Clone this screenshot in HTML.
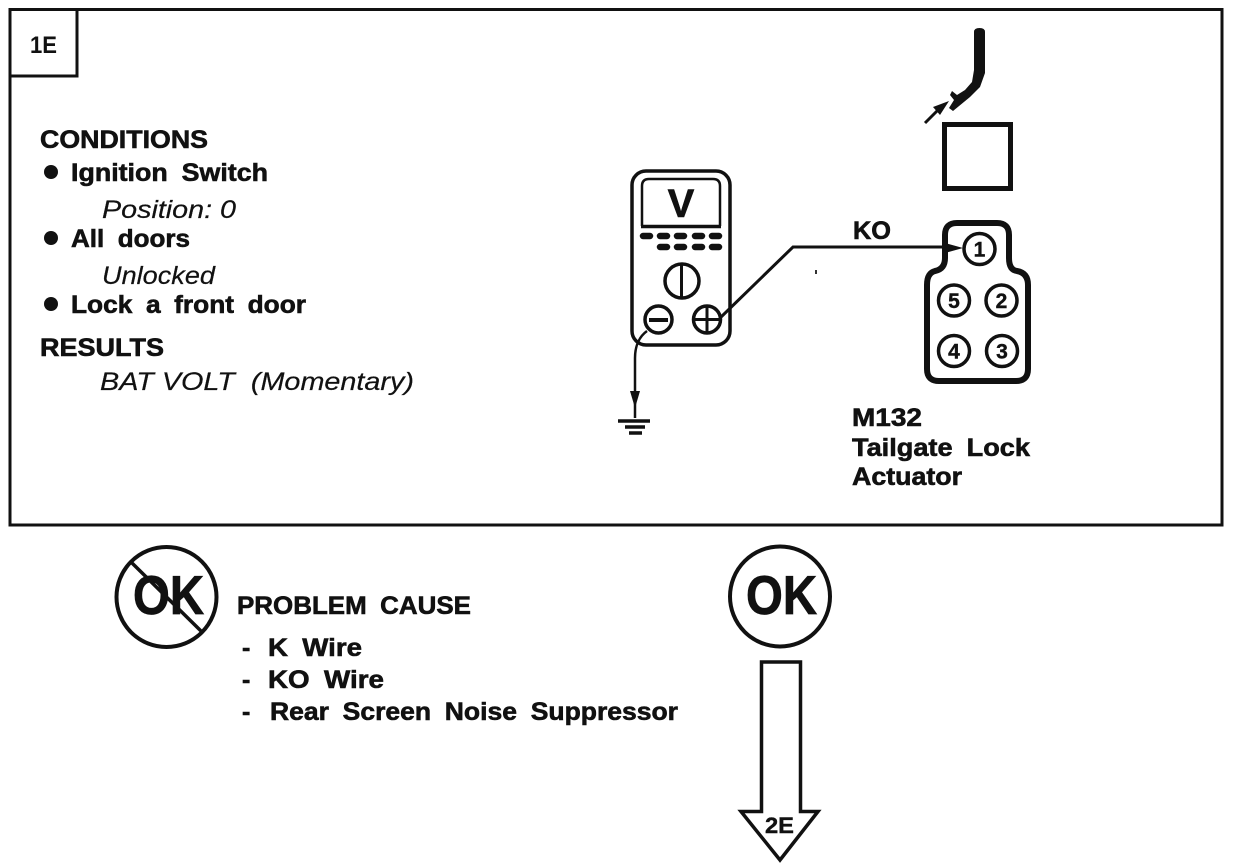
<!DOCTYPE html>
<html>
<head>
<meta charset="utf-8">
<style>
html,body{margin:0;padding:0;background:#fff}
svg{display:block}
text{font-family:"Liberation Sans",sans-serif;fill:#111;white-space:pre}
.b,.p{font-weight:bold;font-size:25px;stroke:#111;stroke-width:.6px}
.p{word-spacing:6px}
.i{font-style:italic;font-size:25px;stroke:#111;stroke-width:.2px}
.n{font-size:21px;font-weight:bold;text-anchor:middle;stroke:#111;stroke-width:.4px}
</style>
</head>
<body>
<svg width="1248" height="868" viewBox="0 0 1248 868" xmlns="http://www.w3.org/2000/svg">
<rect width="1248" height="868" fill="#fff"/>
<rect x="10" y="9.5" width="1212" height="515.5" fill="none" stroke="#111" stroke-width="3"/>
<path d="M10 76H77V9" fill="none" stroke="#111" stroke-width="3"/>
<text x="30" y="53" font-size="24" font-weight="bold" textLength="27" lengthAdjust="spacingAndGlyphs">1E</text>

<text x="40" y="148" class="b" textLength="168" lengthAdjust="spacingAndGlyphs">CONDITIONS</text>
<circle cx="51" cy="172" r="7" fill="#111"/>
<text x="71" y="181" class="p" textLength="197" lengthAdjust="spacingAndGlyphs">Ignition Switch</text>
<text x="102" y="218" class="i" textLength="134" lengthAdjust="spacingAndGlyphs">Position: 0</text>
<circle cx="51" cy="238" r="7" fill="#111"/>
<text x="71" y="247" class="p" textLength="119" lengthAdjust="spacingAndGlyphs">All doors</text>
<text x="102" y="284" class="i" textLength="113" lengthAdjust="spacingAndGlyphs">Unlocked</text>
<circle cx="51" cy="304" r="7" fill="#111"/>
<text x="71" y="313" class="p" textLength="235" lengthAdjust="spacingAndGlyphs">Lock a front door</text>
<text x="40" y="356" class="b" textLength="124" lengthAdjust="spacingAndGlyphs">RESULTS</text>
<text x="100" y="390" class="i" textLength="314" lengthAdjust="spacingAndGlyphs">BAT VOLT  (Momentary)</text>

<!-- Meter -->
<rect x="632" y="171" width="98" height="174" rx="14" fill="none" stroke="#111" stroke-width="3.5"/>
<path d="M642 226V186Q642 179 649 179H713Q720 179 720 186V226" fill="none" stroke="#111" stroke-width="2.5"/>
<path d="M641 226.5H721" stroke="#111" stroke-width="3.5"/>
<text x="681" y="217" font-size="40" font-weight="bold" text-anchor="middle" stroke="#111" stroke-width=".6">V</text>
<g stroke="#111" stroke-width="6.5" stroke-linecap="round">
<path d="M643 236h7M660 236h7M677 236h7M695 236h7M712 236h7"/>
<path d="M660 247h7M677 247h7M695 247h7M712 247h7"/>
</g>
<circle cx="682" cy="281" r="17" fill="none" stroke="#111" stroke-width="3.5"/>
<path d="M681.5 264V298" stroke="#111" stroke-width="3"/>
<circle cx="658.5" cy="319.5" r="13.5" fill="#fff" stroke="#111" stroke-width="3.5"/>
<path d="M649 320H668" stroke="#111" stroke-width="4"/>
<circle cx="707" cy="319.5" r="13.5" fill="#fff" stroke="#111" stroke-width="3.5"/>
<path d="M695 319.5H719M707 307V332" stroke="#111" stroke-width="3"/>
<path d="M647 331C640 336 635 345 635 358V418" fill="none" stroke="#111" stroke-width="2.5"/>
<path d="M630 391L635 408L640 391Z" fill="#111"/>
<path d="M618 421H650M625 427H645M629 433H642" stroke="#111" stroke-width="3.5"/>

<path d="M720 318L793 247H950" fill="none" stroke="#111" stroke-width="3"/>
<path d="M945 243L963 248L945 253Z" fill="#111"/>
<text x="853" y="239" class="b" textLength="38" lengthAdjust="spacingAndGlyphs">KO</text>
<rect x="815" y="270" width="2" height="4" fill="#333"/>

<!-- Wire -->
<path d="M974 32Q974 28 979.5 28Q985 28 985 32V73L980 87L970 97L953 111L949 108L954 100L950 95L952 91L957 95L965 90L972 82L974 70Z" fill="#111"/>
<path d="M925 123L940 108" stroke="#111" stroke-width="3"/>
<path d="M949 101L933 107L940 115Z" fill="#111"/>
<rect x="944.5" y="124.5" width="66" height="64" fill="none" stroke="#111" stroke-width="5"/>

<!-- Connector -->
<path d="M945 235Q945 223 957 223H997Q1009 223 1009 235V258Q1009 270 1017 271Q1028 273 1028 285V369Q1028 381 1016 381H939Q927 381 927 369V285Q927 273 935 271Q945 269 945 258Z" fill="none" stroke="#111" stroke-width="6"/>
<g fill="#fff" stroke="#111" stroke-width="3.5">
<circle cx="979.5" cy="249" r="15.5"/>
<circle cx="954" cy="300.5" r="15.5"/>
<circle cx="1001.5" cy="300.5" r="15.5"/>
<circle cx="954" cy="351" r="15.5"/>
<circle cx="1002" cy="351" r="15.5"/>
</g>
<text x="979.5" y="256.5" class="n">1</text>
<text x="954" y="308" class="n">5</text>
<text x="1001.5" y="308" class="n">2</text>
<text x="954" y="358.5" class="n">4</text>
<text x="1002" y="358.5" class="n">3</text>

<text x="852" y="426" class="b" textLength="70" lengthAdjust="spacingAndGlyphs">M132</text>
<text x="852" y="456" class="p" textLength="178" lengthAdjust="spacingAndGlyphs">Tailgate Lock</text>
<text x="852" y="485" class="b" textLength="110" lengthAdjust="spacingAndGlyphs">Actuator</text>

<!-- No OK -->
<circle cx="166.5" cy="597" r="50" fill="none" stroke="#111" stroke-width="4"/>
<text x="133" y="614" font-size="55" font-weight="bold" textLength="71" lengthAdjust="spacingAndGlyphs" stroke="#111" stroke-width=".8">OK</text>
<path d="M132 563L202 632" stroke="#111" stroke-width="3.5"/>

<text x="237" y="614" class="p" textLength="234" lengthAdjust="spacingAndGlyphs">PROBLEM CAUSE</text>
<text x="242" y="656" class="b">-</text>
<text x="268" y="656" class="p" textLength="94" lengthAdjust="spacingAndGlyphs">K Wire</text>
<text x="242" y="688" class="b">-</text>
<text x="268" y="688" class="p" textLength="116" lengthAdjust="spacingAndGlyphs">KO Wire</text>
<text x="242" y="720" class="b">-</text>
<text x="270" y="720" class="p" textLength="408" lengthAdjust="spacingAndGlyphs">Rear Screen Noise Suppressor</text>

<!-- OK -->
<circle cx="780" cy="596.5" r="50" fill="none" stroke="#111" stroke-width="4"/>
<text x="746" y="614" font-size="55" font-weight="bold" textLength="71" lengthAdjust="spacingAndGlyphs" stroke="#111" stroke-width=".8">OK</text>

<!-- Arrow -->
<path d="M761.5 662H800.5V811.5H818L780 860L741 811.5H761.5Z" fill="none" stroke="#111" stroke-width="3.5"/>
<text x="765" y="833" font-size="22" font-weight="bold" textLength="29" lengthAdjust="spacingAndGlyphs" stroke="#111" stroke-width=".4">2E</text>
</svg>
</body>
</html>
